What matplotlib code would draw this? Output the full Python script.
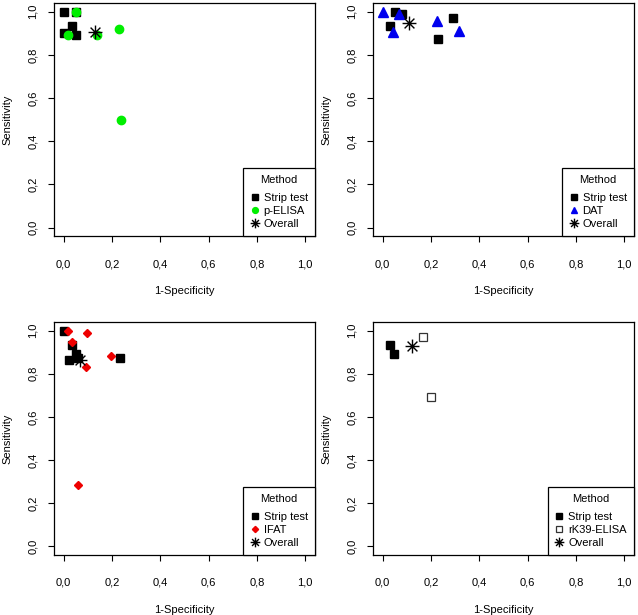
import numpy as np
import matplotlib.pyplot as plt
from matplotlib.path import Path
from matplotlib.ticker import FuncFormatter

plt.rcParams['font.family'] = ['Liberation Sans', 'DejaVu Sans']
plt.rcParams['font.size'] = 8

# panel 1: strip test vs p-ELISA
strip1_x = [0.0, 0.0, 0.036, 0.053, 0.053]
strip1_y = [1.0, 0.90, 0.935, 0.89, 1.0]
pelisa_x = [0.053, 0.019, 0.139, 0.228, 0.236]
pelisa_y = [1.0, 0.89, 0.89, 0.92, 0.50]
overall1 = (0.129, 0.904)

# panel 2: strip test vs DAT
strip2_x = [0.051, 0.079, 0.032, 0.29, 0.231]
strip2_y = [1.0, 0.99, 0.935, 0.972, 0.873]
dat_x = [0.0, 0.043, 0.066, 0.224, 0.314]
dat_y = [1.0, 0.905, 0.99, 0.955, 0.91]
overall2 = (0.108, 0.946)

# panel 3: strip test vs IFAT
strip3_x = [0.0, 0.036, 0.052, 0.021, 0.232, 0.06]
strip3_y = [1.0, 0.935, 0.892, 0.862, 0.875, 0.875]
ifat_x = [0.018, 0.096, 0.034, 0.196, 0.094, 0.059]
ifat_y = [1.0, 0.99, 0.946, 0.88, 0.833, 0.284]
overall3 = (0.069, 0.862)

# panel 4: strip test vs rK39-ELISA
strip4_x = [0.029, 0.046]
strip4_y = [0.935, 0.889]
rk39_x = [0.168, 0.202]
rk39_y = [0.972, 0.694]
overall4 = (0.122, 0.929)

ticks = [0.0, 0.2, 0.4, 0.6, 0.8, 1.0]

r = np.sqrt(0.5)
asterisk = Path([(-1, 0), (1, 0), (0, -1), (0, 1), (-r, -r), (r, r), (-r, r), (r, -r)],
                [Path.MOVETO, Path.LINETO] * 4)

comma = FuncFormatter(lambda v, p: ("%.1f" % v).replace('.', ','))


def panel(rect, sx, sy, ox, oy, oname, ostyle, overall):
    ax = fig.add_axes(rect)
    ax.plot(sx, sy, 's', color='black', ms=6, label='Strip test', linestyle='none')
    ax.plot(ox, oy, linestyle='none', label=oname, **ostyle)
    ax.plot([overall[0]], [overall[1]], linestyle='none', marker=asterisk, ms=10,
            mfc='none', mec='black', mew=1.0, label='Overall')
    ax.set_xlim(-0.04, 1.04)
    ax.set_ylim(-0.04, 1.04)
    ax.set_xticks(ticks)
    ax.set_yticks(ticks)
    ax.xaxis.set_major_formatter(comma)
    ax.yaxis.set_major_formatter(comma)
    ax.tick_params(direction='out', length=4.5, width=0.8)
    ax.tick_params(axis='x', pad=12)
    ax.tick_params(axis='y', pad=7)
    for lab in ax.get_yticklabels():
        lab.set_rotation(90)
        lab.set_va('center')
    ax.set_xlabel('1-Specificity', labelpad=12)
    ax.set_ylabel('Sensitivity', labelpad=11)
    for s in ax.spines.values():
        s.set_linewidth(0.9)
    leg = ax.legend(title='Method', loc='lower right', borderaxespad=0, fancybox=False,
                    edgecolor='black', framealpha=1, markerscale=0.7, handlelength=0.8,
                    handletextpad=0.4, labelspacing=0.25, borderpad=0.65, fontsize=8,
                    title_fontsize=8)
    leg.get_frame().set_linewidth(0.9)
    leg._legend_box.sep = 6
    return ax


fig = plt.figure(figsize=(6.38, 6.15), dpi=100)

panel([0.0846, 0.616, 0.409, 0.379], strip1_x, strip1_y, pelisa_x, pelisa_y, 'p-ELISA',
      dict(marker='o', color='#00ee00', ms=6), overall1)
panel([0.5846, 0.616, 0.409, 0.379], strip2_x, strip2_y, dat_x, dat_y, 'DAT',
      dict(marker='^', color='#0000ee', ms=7), overall2)
panel([0.0846, 0.0976, 0.409, 0.379], strip3_x, strip3_y, ifat_x, ifat_y, 'IFAT',
      dict(marker='D', color='#ee0000', ms=4.5), overall3)
panel([0.5846, 0.0976, 0.409, 0.379], strip4_x, strip4_y, rk39_x, rk39_y, 'rK39-ELISA',
      dict(marker='s', mfc='white', mec='#333333', mew=0.9, ms=6), overall4)

fig.savefig('out.png', dpi=100)
